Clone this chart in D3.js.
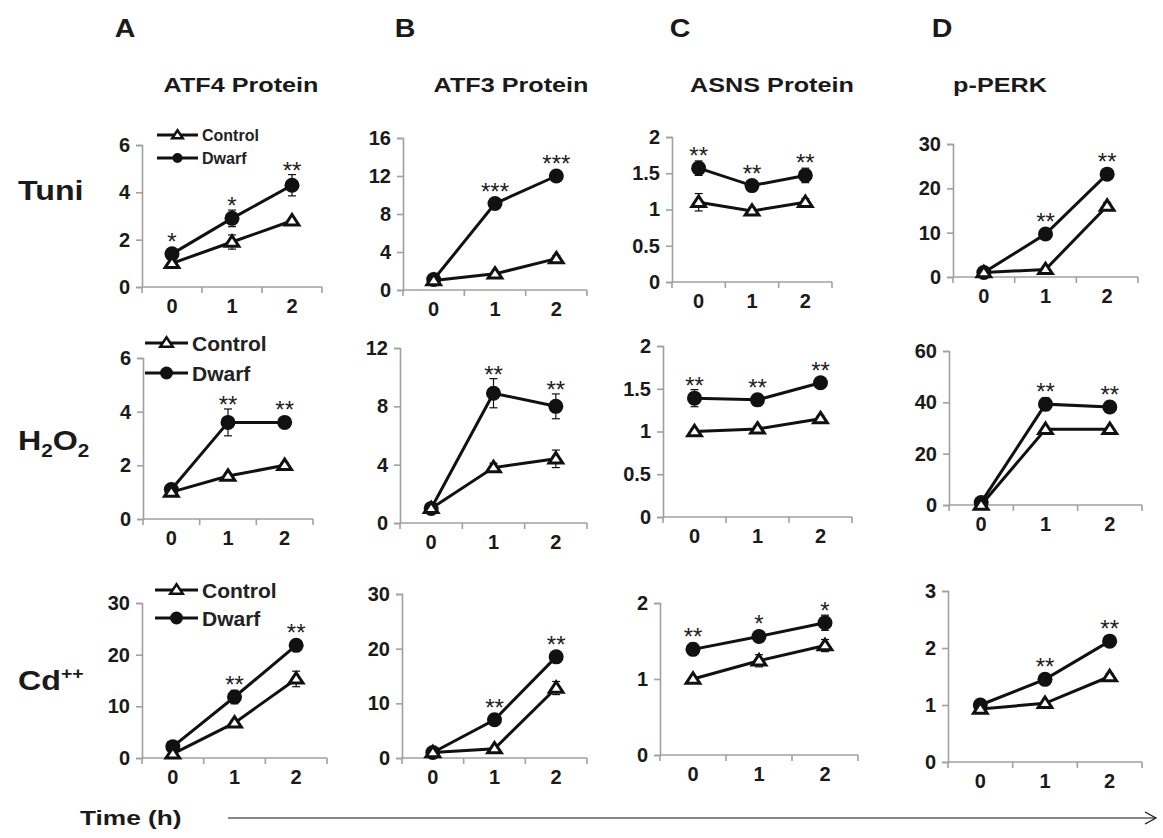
<!DOCTYPE html>
<html><head><meta charset="utf-8">
<script src="https://cdn.jsdelivr.net/npm/d3@7"></script>
<style>
body{margin:0;background:#fff;}
svg{display:block;font-family:Arial,"Liberation Sans",sans-serif;}
</style></head>
<body><svg id="chart" width="1163" height="838"></svg>
<script>
// ---------- DATA ----------
const colLetters = ["A","B","C","D"];
const colTitles = ["ATF4 Protein","ATF3 Protein","ASNS Protein","p-PERK"];
const rowNames = ["Tuni","H2O2","Cd++"];
const timeLabels = ["0","1","2"];
const seriesNames = ["Control","Dwarf"];

// panel order: row-major (Tuni A..D, H2O2 A..D, Cd A..D)
const controlValues = [
  [1.0,1.9,2.8],[1.0,1.7,3.3],[1.1,0.98,1.1],[1.0,1.7,16.0],
  [1.0,1.6,2.0],[1.0,3.8,4.4],[1.0,1.03,1.15],[0.0,29.5,29.5],
  [0.8,6.8,15.3],[1.0,1.7,12.8],[1.0,1.24,1.44],[0.93,1.03,1.5]
];
const controlErrors = [
  [0.1,0.3,0.1],[0.2,0.2,0.3],[0.12,0.04,0.05],[0.3,0.5,0.8],
  [0.1,0.1,0.1],[0.2,0.3,0.6],[0.03,0.03,0.03],[0.5,0.5,0.5],
  [0.3,0.5,1.5],[0.2,0.3,1.2],[0.02,0.08,0.08],[0.03,0.03,0.05]
];
const dwarfValues = [
  [1.4,2.9,4.3],[1.1,9.1,12.0],[1.57,1.33,1.47],[1.0,9.7,23.2],
  [1.1,3.6,3.6],[1.0,8.9,8.0],[1.39,1.37,1.57],[1.0,39.3,38.2],
  [2.2,11.8,21.8],[1.0,7.0,18.5],[1.39,1.56,1.74],[1.0,1.45,2.12]
];
const dwarfErrors = [
  [0.1,0.35,0.45],[0.2,0.3,0.3],[0.1,0.05,0.1],[0.3,0.8,0.8],
  [0.1,0.5,0.1],[0.2,1.0,0.85],[0.1,0.03,0.03],[0.5,2.5,1.0],
  [0.3,1.3,0.5],[0.2,0.3,0.3],[0.08,0.03,0.1],[0.03,0.03,0.05]
];
const stars = [
  ["*","*","**"],["","***","***"],["**","**","**"],["","**","**"],
  ["","**","**"],["","**","**"],["**","**","**"],["","**","**"],
  ["","**","**"],["","**","**"],["**","*","*"],["","**","**"]
];
const yTicks = [
  [0,2,4,6],[0,4,8,12,16],[0,0.5,1,1.5,2],[0,10,20,30],
  [0,2,4,6],[0,4,8,12],[0,0.5,1,1.5,2],[0,20,40,60],
  [0,10,20,30],[0,10,20,30],[0,1,2],[0,1,2,3]
];

// ---------- LAYOUT ----------
// [left, right, top(y of max tick), bottom(y of 0)]
const boxes = [
  [142,322,145,287],[403,587,138,290],[672,832,137,282],[953,1138,144,277],
  [143,313,358,519],[400,587,348,523],[663,852,346,517],[949,1142,351,505],
  [142,327,603,758],[402,587,594,758],[660,858,603,755],[948,1142,591,762]
];
const legendPos = [
  {x1:157,x2:198,y:[135,158],fs:16,tri:5,r:5},
  {x1:145,x2:188,y:[343,373],fs:21,tri:6,r:6.5},
  {x1:155,x2:198,y:[590,618],fs:21,tri:6,r:6.5}
];
const letterX = [125,405,680,942];
const titleX = [241,511,772,1000];
const rowLabelY = [190,440,680];
const FONT = 'Arial,"Liberation Sans",sans-serif';

const svg = d3.select("#chart");
const AX = "#a0a0a0";

function stretchedText(parent, x, y, sx, anchor){
  return parent.append("text")
    .attr("transform",`translate(${x},${y}) scale(${sx},1)`)
    .attr("text-anchor",anchor);
}
function triPath(cx, cy, s){
  const h = s*1.6;
  return `M${cx},${cy - h*0.6}L${cx + s*1.05},${cy + h*0.4}L${cx - s*1.05},${cy + h*0.4}Z`;
}

// headers
colLetters.forEach((d,i)=>{
  stretchedText(svg, letterX[i], 37, 1.1, "middle")
    .attr("font-size",26).attr("font-weight","bold").attr("fill","#1a1a1a").text(d);
});
colTitles.forEach((d,i)=>{
  stretchedText(svg, titleX[i], 92, 1.2, "middle")
    .attr("font-size",21).attr("font-weight","bold").attr("fill","#1a1a1a").text(d);
});

// row labels
const rl = svg.append("g").attr("font-size",28).attr("font-weight","bold").attr("fill","#1a1a1a");
stretchedText(rl, 18, rowLabelY[0]+10, 1.15, "start").text(rowNames[0]);
{
  const t = stretchedText(rl, 18, rowLabelY[1]+10, 1.15, "start");
  t.append("tspan").text("H");
  t.append("tspan").attr("font-size",18).attr("dy",7).text("2");
  t.append("tspan").attr("dy",-7).text("O");
  t.append("tspan").attr("font-size",18).attr("dy",7).text("2");
}
{
  const t = stretchedText(rl, 18, rowLabelY[2]+10, 1.15, "start");
  t.append("tspan").text("Cd");
  t.append("tspan").attr("font-size",17).attr("dy",-11).text("++");
}

// panels
boxes.forEach((b,i)=>{
  const [L,R,T,B] = b;
  const ticks = yTicks[i];
  const ymax = ticks[ticks.length-1];
  const y = d3.scaleLinear().domain([0,ymax]).range([B,T]);
  const x = d3.scaleBand().domain(timeLabels).range([L,R]).padding(0);
  const g = svg.append("g");

  // y axis
  const ya = g.append("g").attr("transform",`translate(${L},0)`)
    .call(d3.axisLeft(y).tickValues(ticks).tickSize(6).tickPadding(6).tickFormat(d3.format("~g")));
  ya.select(".domain").attr("stroke",AX).attr("stroke-width",1.6);
  ya.selectAll(".tick line").attr("stroke",AX).attr("stroke-width",1.6);
  ya.selectAll(".tick text").attr("font-size",20).attr("font-weight","bold").attr("fill","#1a1a1a")
    .attr("font-family",FONT);

  // x axis
  const xa = g.append("g").attr("transform",`translate(0,${B})`)
    .call(d3.axisBottom(x).tickSize(0).tickPadding(12));
  xa.select(".domain").attr("stroke",AX).attr("stroke-width",1.6).attr("d",`M${L},0H${R}`);
  xa.selectAll(".tick text").attr("font-size",20).attr("font-weight","bold").attr("fill","#1a1a1a")
    .attr("font-family",FONT);
  const bounds = [0,1,2,3].map(k=>L + k*x.bandwidth());
  xa.selectAll("line.bt").data(bounds).join("line").attr("class","bt")
    .attr("x1",d=>d).attr("x2",d=>d).attr("y1",0).attr("y2",6)
    .attr("stroke",AX).attr("stroke-width",1.6);

  const cx = t => x(t) + x.bandwidth()/2;
  const ctrl = timeLabels.map((t,k)=>({t,v:controlValues[i][k],e:controlErrors[i][k]}));
  const dw = timeLabels.map((t,k)=>({t,v:dwarfValues[i][k],e:dwarfErrors[i][k],s:stars[i][k]}));
  const line = d3.line().x(d=>cx(d.t)).y(d=>y(d.v));

  [ctrl,dw].forEach(ser=>{
    g.append("path").attr("d",line(ser)).attr("fill","none").attr("stroke","#111").attr("stroke-width",3);
  });
  // error bars
  [ctrl,dw].forEach(ser=>{
    ser.forEach(d=>{
      const px = cx(d.t), y1 = y(d.v + d.e), y2 = y(Math.max(0,d.v - d.e));
      g.append("line").attr("x1",px).attr("x2",px).attr("y1",y1).attr("y2",y2).attr("stroke","#111").attr("stroke-width",1.2);
      [y1,y2].forEach(yy=>g.append("line").attr("x1",px-4).attr("x2",px+4).attr("y1",yy).attr("y2",yy).attr("stroke","#111").attr("stroke-width",1.2));
    });
  });
  // markers
  g.selectAll("circle.dw").data(dw).join("circle").attr("class","dw")
    .attr("cx",d=>cx(d.t)).attr("cy",d=>y(d.v)).attr("r",7.5).attr("fill","#111");
  g.selectAll("path.ct").data(ctrl).join("path").attr("class","ct")
    .attr("d",d=>triPath(cx(d.t),y(d.v),6.5)).attr("fill","#fff").attr("stroke","#111").attr("stroke-width",3).attr("stroke-linejoin","miter");
  // stars
  g.selectAll("text.star").data(dw).join("text").attr("class","star")
    .attr("x",d=>cx(d.t)).attr("y",d=>Math.min(y(d.v)-8, y(d.v+d.e)) + 4)
    .attr("text-anchor","middle").attr("font-size",24).attr("fill","#222").text(d=>d.s);
});

// legends
[0,4,8].forEach((pi,r)=>{
  const lp = legendPos[r];
  const g = svg.append("g");
  seriesNames.forEach((name,k)=>{
    const yy = lp.y[k];
    g.append("line").attr("x1",lp.x1).attr("x2",lp.x2).attr("y1",yy).attr("y2",yy).attr("stroke","#111").attr("stroke-width",3);
    const mx = (lp.x1+lp.x2)/2;
    if(k===0) g.append("path").attr("d",triPath(mx,yy,lp.tri)).attr("fill","#fff").attr("stroke","#111").attr("stroke-width",2.5);
    else g.append("circle").attr("cx",mx).attr("cy",yy).attr("r",lp.r).attr("fill","#111");
    g.append("text").attr("x",lp.x2+4).attr("y",yy).attr("dy","0.36em")
      .attr("font-size",lp.fs).attr("font-weight","bold").attr("fill","#222").text(name);
  });
});

// time axis
stretchedText(svg, 80, 825, 1.25, "start").attr("font-size",21).attr("font-weight","bold").attr("fill","#1a1a1a").text("Time (h)");
svg.append("line").attr("x1",228).attr("x2",1155).attr("y1",818).attr("y2",818).attr("stroke","#111").attr("stroke-width",1.2);
svg.append("path").attr("d","M1145,812L1156,818L1145,824").attr("fill","none").attr("stroke","#111").attr("stroke-width",1.2);
</script></body></html>
